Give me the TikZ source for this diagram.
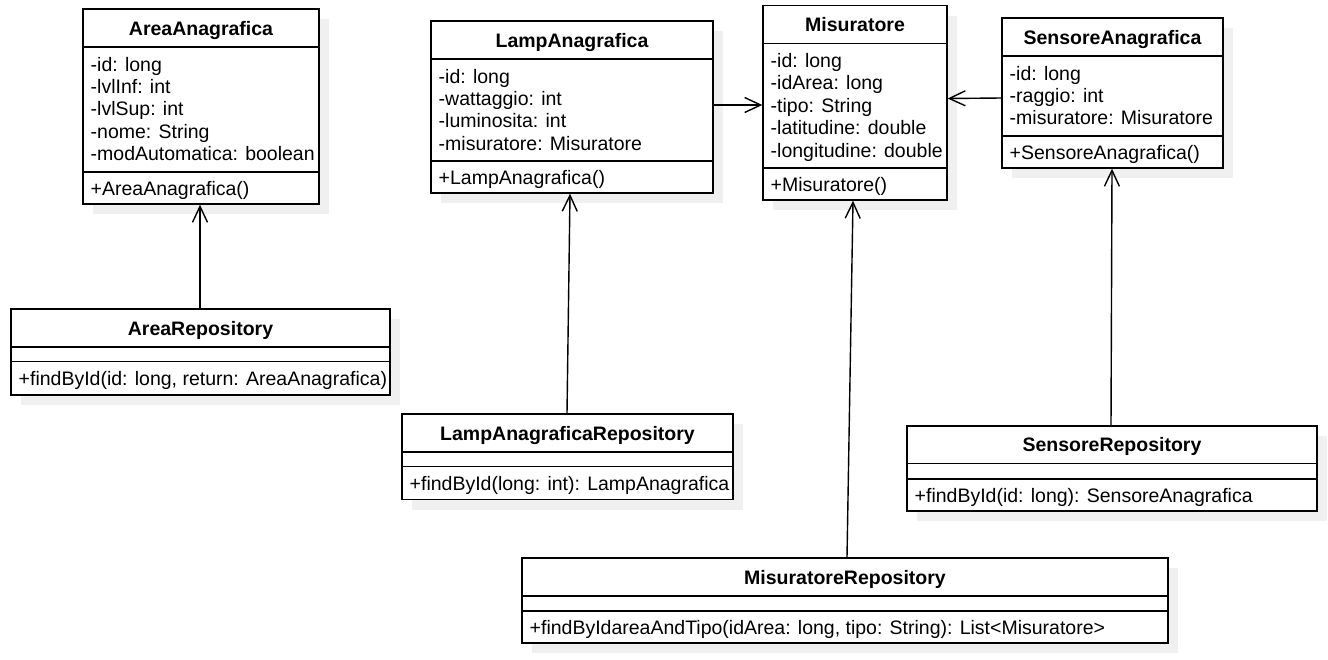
\documentclass[tikz,border=0pt]{standalone}
\usepackage{fontspec}
\setmainfont{Liberation Sans}
\usetikzlibrary{arrows.meta,fit}
\definecolor{shadowc}{RGB}{240,240,240}
\tikzset{
  cls/.style={draw=black, line width=1.4pt, fill=white, inner sep=0pt},
  sepline/.style={line width=1.4pt},
  ttl/.style={font=\fontsize{19.5}{22}\selectfont\bfseries, inner sep=0pt},
  txt/.style={font=\fontsize{19.5}{22}\selectfont, inner sep=0pt},
  assoc/.style={line width=1.4pt, -{Straight Barb[length=16pt,width=15pt,line width=1.4pt]}},
}
% #1 name, #2 L, #3 T, #4 R, #5 B, #6 header line, #7 second line, #8 title
\newcommand{\umlbox}[8]{%
  \node[cls, fit={(#2,#3) (#4,#5)}] (#1) {};
  \draw[sepline] (#2,#6) -- (#4,#6);
  \draw[sepline] (#2,#7) -- (#4,#7);
  \node[ttl, anchor=base] (#1-title) at ({(#2+#4)/2},{(#3+#6)/2+7}) {#8};
}
% #1 prefix, #2 x, #3 first baseline, #4 list
\newcommand{\umlrows}[4]{%
  \foreach \r [count=\i] in {#4} {
    \node[txt, anchor=base west] (#1-\i) at (#2,{#3+(\i-1)*22.4}) {\r};
  }
}
\newcommand{\umlshadow}[4]{%
  \fill[shadowc] (#1+10,#2+10) rectangle (#3+10,#4+10);
}
\begin{document}
\begin{tikzpicture}[x=1pt,y=-1pt]
\useasboundingbox (0,0) rectangle (1328,659);
% shadows
\umlshadow{83}{9}{319}{204}
\umlshadow{431}{21}{713}{193}
\umlshadow{763}{5.5}{947}{200}
\umlshadow{1002}{18}{1223}{168}
\umlshadow{11}{309}{390}{395}
\umlshadow{402}{414}{733}{499.5}
\umlshadow{907}{426}{1317}{511}
\umlshadow{522}{558}{1168}{643}
% classes
\umlbox{area}{83}{9}{319}{204}{47}{172}{AreaAnagrafica}
\umlrows{area-a}{90.5}{71}{-id: long,-lvlInf: int,-lvlSup: int,-nome: String,-modAutomatica: boolean}
\umlrows{area-m}{90.5}{195.5}{+AreaAnagrafica()}

\umlbox{lamp}{431}{21}{713}{193}{59}{161}{LampAnagrafica}
\umlrows{lamp-a}{438.5}{83}{-id: long,-wattaggio: int,-luminosita: int,-misuratore: Misuratore}
\umlrows{lamp-m}{438.5}{184.5}{+LampAnagrafica()}

\umlbox{mis}{763}{5.5}{947}{200}{43.5}{168}{Misuratore}
\umlrows{mis-a}{770.5}{67.5}{-id: long,-idArea: long,-tipo: String,-latitudine: double,-longitudine: double}
\umlrows{mis-m}{770.5}{191.5}{+Misuratore()}

\umlbox{sens}{1002}{18}{1223}{168}{56}{136}{SensoreAnagrafica}
\umlrows{sens-a}{1009.5}{80}{-id: long,-raggio: int,-misuratore: Misuratore}
\umlrows{sens-m}{1009.5}{159.5}{+SensoreAnagrafica()}

\umlbox{arepo}{11}{309}{390}{395}{347}{361.5}{AreaRepository}
\umlrows{arepo-m}{18.5}{385}{{+findById(id: long, return: AreaAnagrafica)}}

\umlbox{lrepo}{402}{414}{733}{499.5}{452}{466.5}{LampAnagraficaRepository}
\umlrows{lrepo-m}{409.5}{490}{{+findById(long: int): LampAnagrafica}}

\umlbox{srepo}{907}{426}{1317}{511}{463.5}{479}{SensoreRepository}
\umlrows{srepo-m}{914.5}{502.5}{{+findById(id: long): SensoreAnagrafica}}

\umlbox{mrepo}{522}{558}{1168}{643}{596}{611}{MisuratoreRepository}
\umlrows{mrepo-m}{529.5}{634.5}{{+findByIdareaAndTipo(idArea: long, tipo: String): List<Misuratore>}}

% connectors
\draw[assoc] (arepo.north -| 200,0) -- (area.south -| 200,0);
\draw[assoc] (lrepo.north -| 567,0) -- (lamp.south -| 570,0);
\draw[assoc] (mrepo.north -| 847,0) -- (mis.south -| 853,0);
\draw[assoc] (srepo.north -| 1111,0) -- (sens.south -| 1112,0);
\draw[assoc] (lamp.east |- 0,105) -- (mis.west |- 0,105);
\draw[assoc] (sens.west |- 0,98) -- (mis.east |- 0,98.5);
\end{tikzpicture}
\end{document}
